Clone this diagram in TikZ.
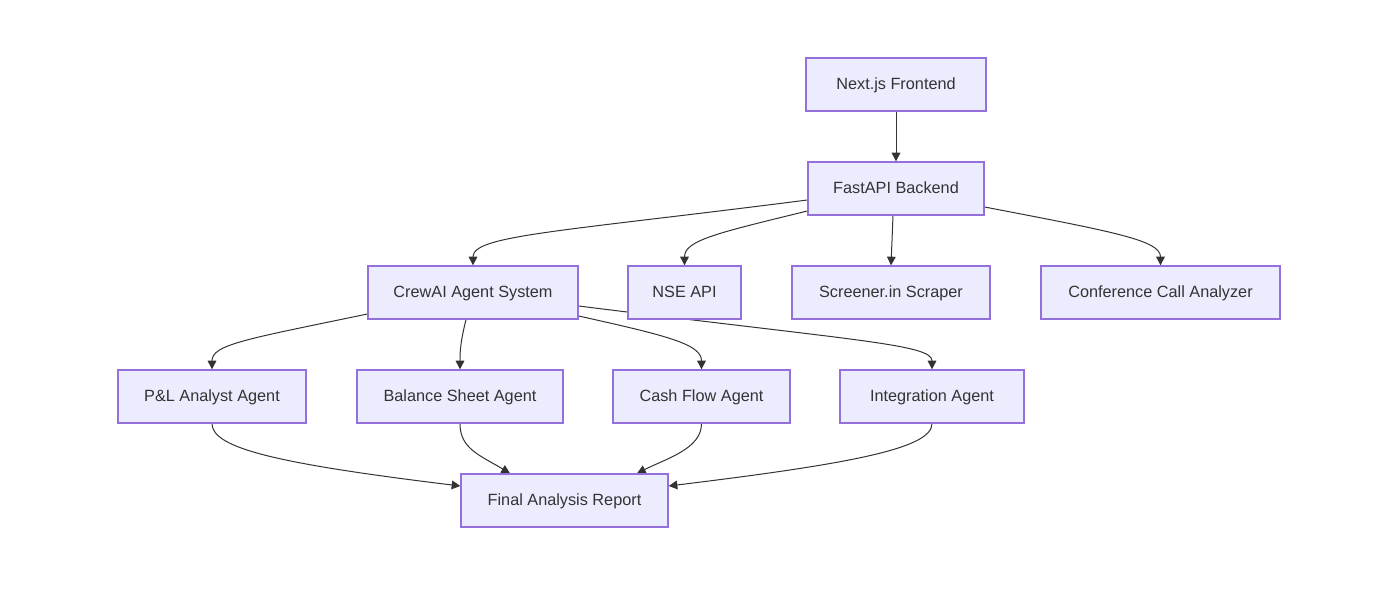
\documentclass[tikz,border=0pt]{standalone}
\usepackage{fontspec}
\setmainfont{Liberation Sans}
\usetikzlibrary{arrows.meta,calc}
\definecolor{boxfill}{HTML}{ECECFF}
\definecolor{boxline}{HTML}{9370DB}
\definecolor{ink}{HTML}{333333}
\pgfdeclarelayer{bg}
\pgfsetlayers{bg,main}
\begin{document}
\begin{tikzpicture}[x=0.75pt,y=-0.75pt,
  box/.style={draw=boxline,fill=boxfill,line width=1pt,minimum height=39.75pt,inner sep=0pt,text height=10pt,text depth=1.8pt,text=ink,font=\fontsize{12.2pt}{14pt}\selectfont},
  edge/.style={draw=ink,line width=0.75pt,-{Triangle[length=6.5pt,width=6.5pt]}}]
\useasboundingbox (0,0) rectangle (1385,601);
\node[box,minimum width=135pt] (next) at (896,84.5) {Next.js Frontend};
\node[box,minimum width=132pt] (fast) at (896,188.5) {FastAPI Backend};
\node[box,minimum width=157.5pt] (crew) at (473,292.5) {CrewAI Agent System};
\node[box,minimum width=84.75pt] (nse) at (684.5,292.5) {NSE API};
\node[box,minimum width=148.5pt] (scr) at (891,292.5) {Screener.in Scraper};
\node[box,minimum width=179.25pt] (conf) at (1160.5,292.5) {Conference Call Analyzer};
\node[box,minimum width=141pt] (pl) at (212,396.5) {P\&L Analyst Agent};
\node[box,minimum width=154.5pt] (bal) at (460,396.5) {Balance Sheet Agent};
\node[box,minimum width=132.75pt] (cash) at (701.5,396.5) {Cash Flow Agent};
\node[box,minimum width=138pt] (integ) at (932,396.5) {Integration Agent};
\node[box,minimum width=155.25pt] (final) at (564.5,500.5) {Final Analysis Report};
\begin{pgfonlayer}{bg}
\draw[edge] (next.south) -- (fast.north);
\draw[edge] ($(fast.west)+(0,11.5)$) .. controls +(-250,32) and +(0,-30) .. (crew.north);
\draw[edge] ($(fast.west)+(0,22.5)$) .. controls +(-90,22) and +(0,-25) .. (nse.north);
\draw[edge] ($(fast.south)+(-3,0)$) -- (scr.north);
\draw[edge] ($(fast.east)+(0,18.5)$) .. controls +(130,25) and +(0,-25) .. (conf.north);
\draw[edge] ($(crew.west)+(0,21.5)$) .. controls +(-120,25) and +(0,-25) .. (pl.north);
\draw[edge] ($(crew.south)+(-7,0)$) .. controls +(-5,20) and +(0,-20) .. (bal.north);
\draw[edge] ($(crew.east)+(0,23.5)$) .. controls +(90,20) and +(0,-25) .. (cash.north);
\draw[edge] ($(crew.east)+(0,13.5)$) .. controls +(280,35) and +(0,-25) .. (integ.north);
\draw[edge] (pl.south) .. controls +(0,25) and +(-180,-22) .. ($(final.west)+(0,-14.5)$);
\draw[edge] (bal.south) .. controls +(0,25) and +(-30,-18) .. ($(final.north)+(-54.5,0)$);
\draw[edge] (cash.south) .. controls +(0,25) and +(30,-15) .. ($(final.north)+(72.5,0)$);
\draw[edge] (integ.south) .. controls +(0,25) and +(180,-22) .. ($(final.east)+(0,-14.5)$);
\end{pgfonlayer}
\end{tikzpicture}
\end{document}
